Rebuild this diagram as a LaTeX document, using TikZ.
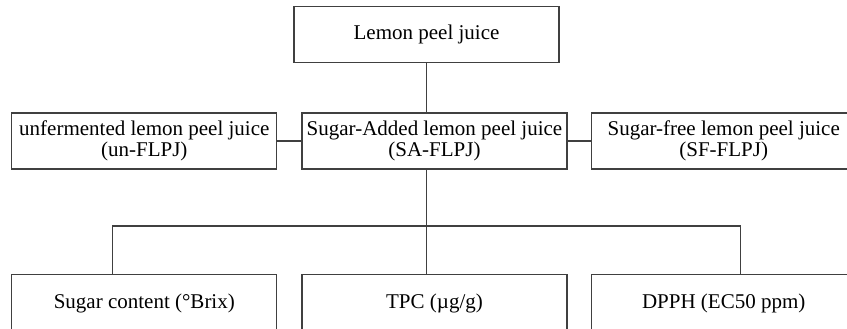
\documentclass[tikz,border=0pt]{standalone}
\usepackage{fontspec}
\setmainfont{Liberation Serif}
\usetikzlibrary{positioning}

\begin{document}
\begin{tikzpicture}[
  x=1pt, y=1pt,
  font=\fontsize{21}{21.5}\selectfont,
  node distance=49pt and 24pt,
  box/.style={draw=black!75, line width=1.2pt, align=center, inner sep=0pt,
              minimum width=265pt, minimum height=56pt},
  lowbox/.style={box, minimum height=58pt},
  link/.style={draw=black!75, line width=1.2pt},
]
\useasboundingbox (0,0) rectangle (847,329);
% ---- middle row: the three juices ------------------------------------
\node[box] (sa) at (434.5,188) {Sugar-Added lemon peel juice\\(SA-FLPJ)};
\node[box, left=24pt of sa] (un) {unfermented lemon peel juice\\(un-FLPJ)};
\node[box, right=23pt of sa] (sf) {Sugar-free lemon peel juice\\(SF-FLPJ)};
% ---- top: source -----------------------------------------------------
\node[box, above=49pt of sa, xshift=-8pt] (lpj) {Lemon peel juice};
% ---- bottom row: measurements ----------------------------------------
\node[lowbox, below=104pt of un] (brix) {Sugar content (°Brix)};
\node[lowbox, below=104pt of sa] (tpc) {TPC (µg/g)};
\node[lowbox, below=104pt of sf] (dpph) {DPPH (EC50 ppm)};
\coordinate (bus) at (427,103);
% ---- edges -----------------------------------------------------------
\draw[link] (lpj.south) -- (lpj.south |- sa.north);
\draw[link] (un) -- (sa);
\draw[link] (sa) -- (sf);
\draw[link] (lpj.south |- sa.south) -- (lpj.south |- tpc.north);
\draw[link] ([xshift=-31.5pt]brix.north) |- (bus) -| ([xshift=16.5pt]dpph.north);
\end{tikzpicture}
\end{document}
